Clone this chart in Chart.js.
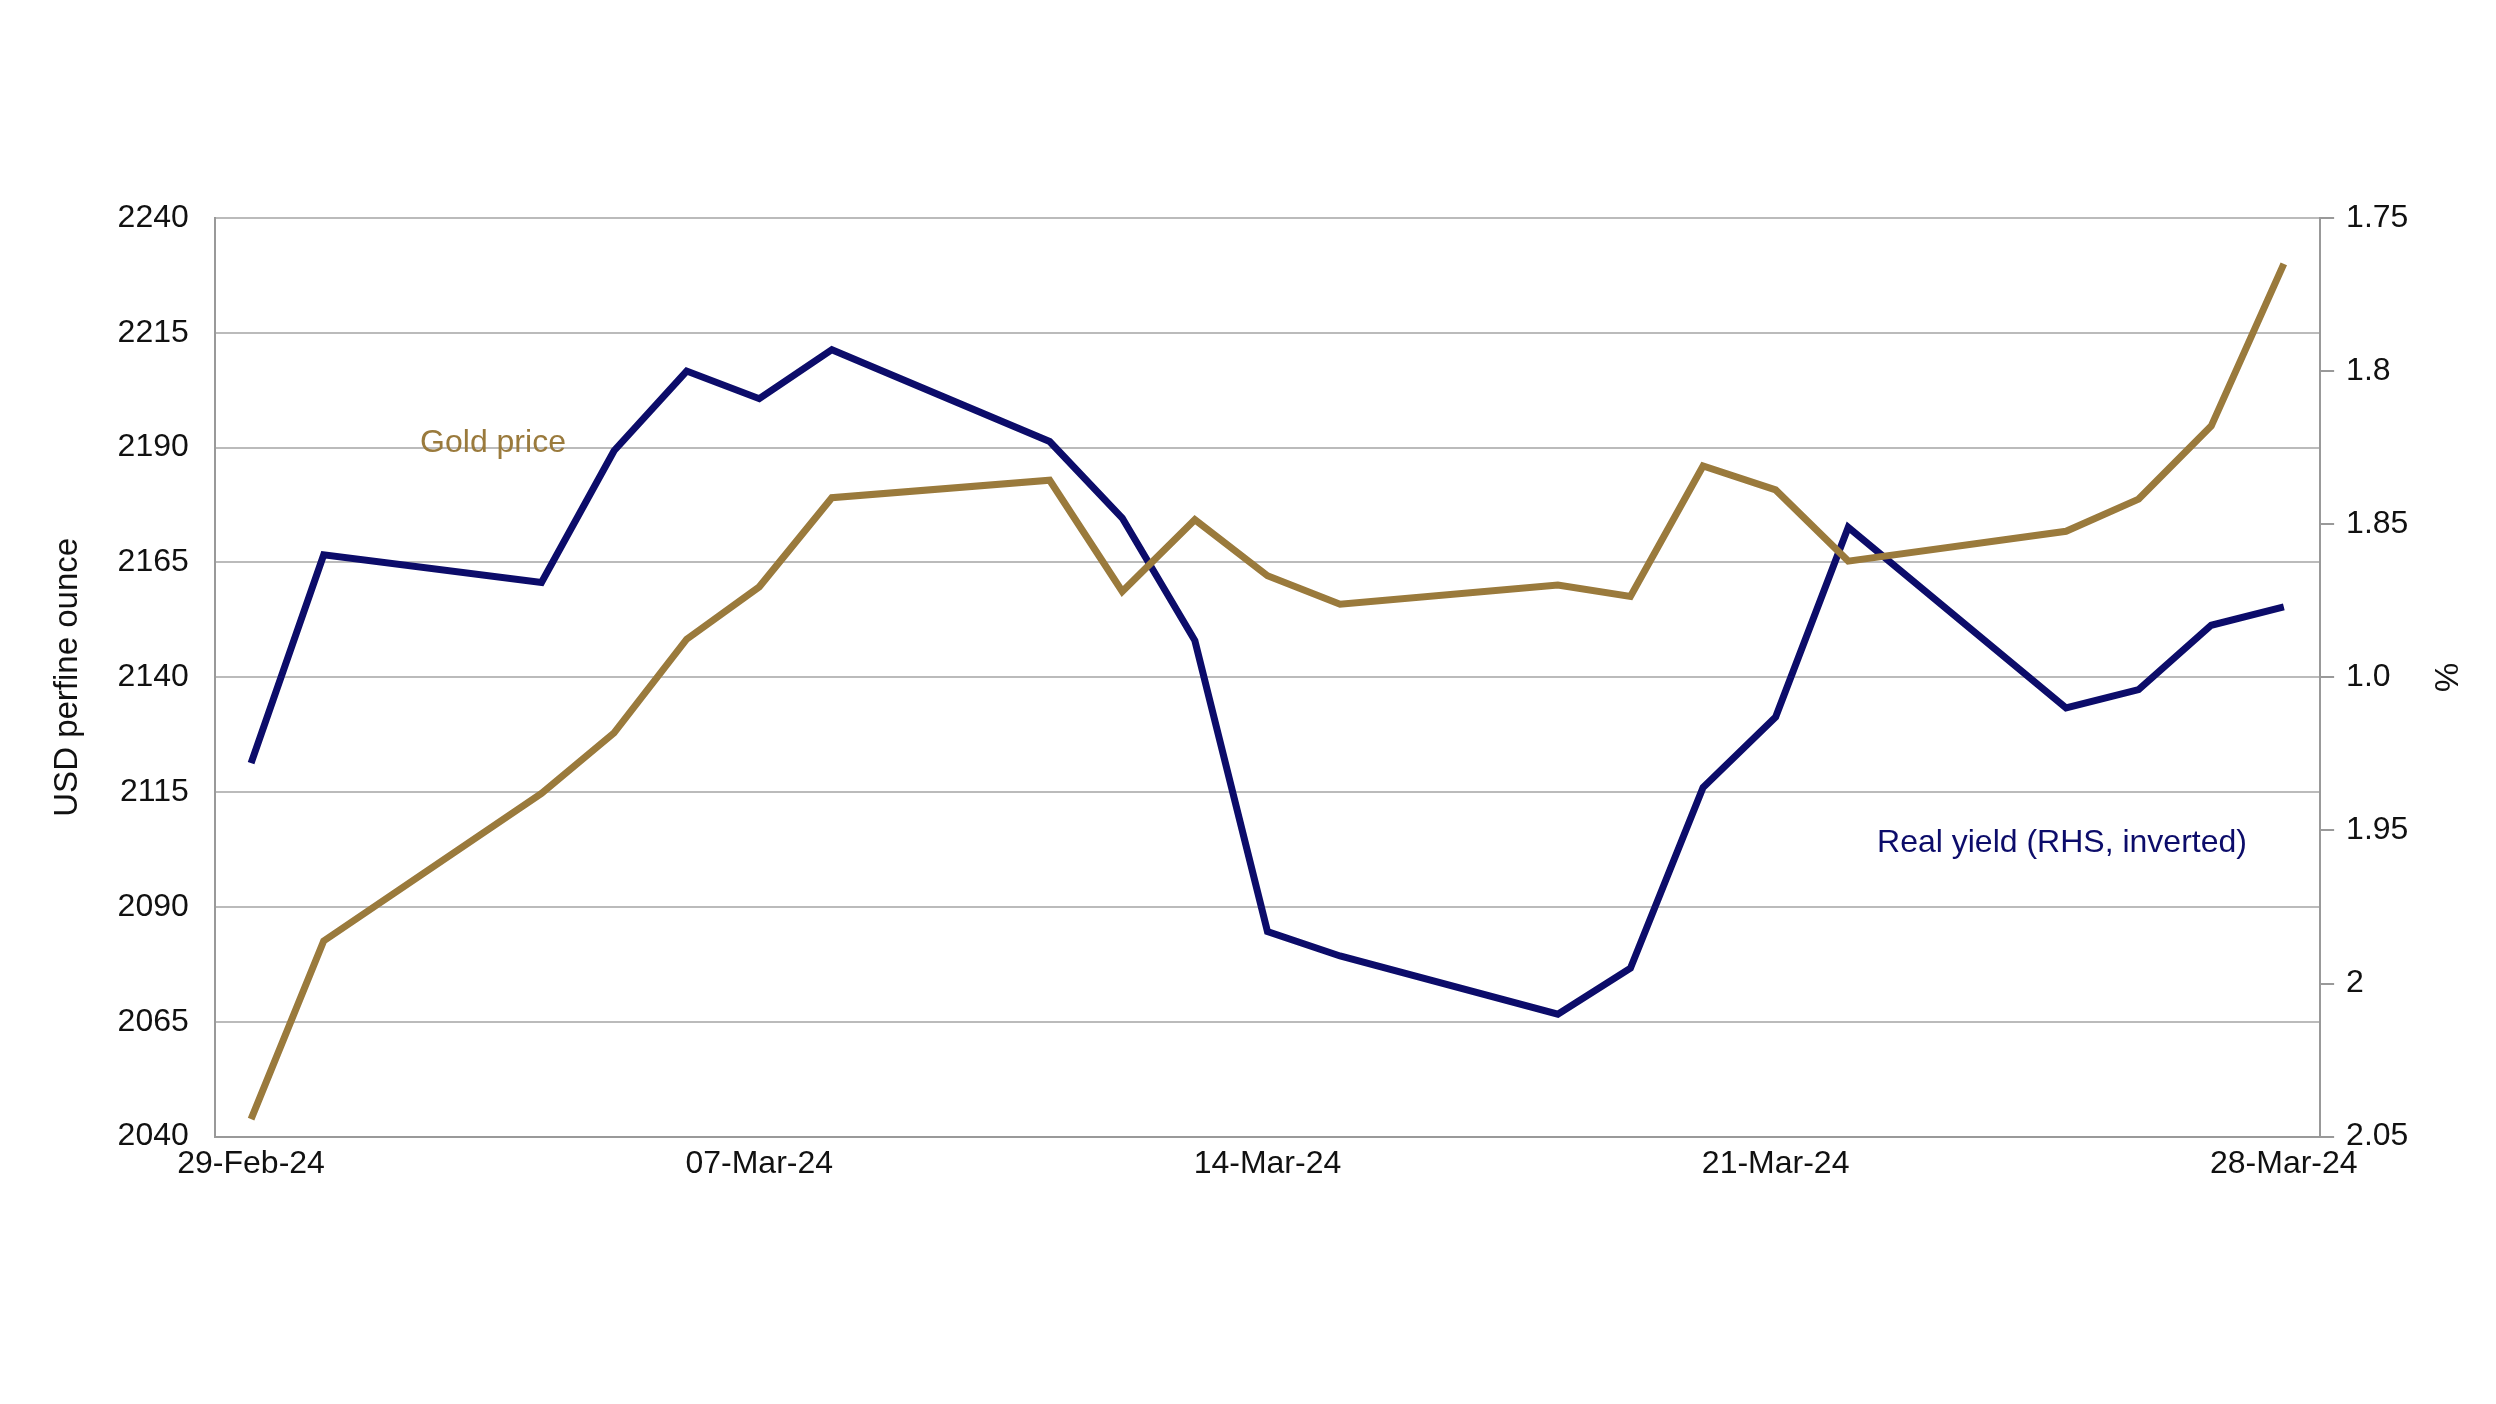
<!DOCTYPE html>
<html>
<head>
<meta charset="utf-8">
<script src="https://cdn.jsdelivr.net/npm/chart.js@4/dist/chart.umd.min.js"></script>
<style>
  html, body { margin: 0; background: #fff; }
  #wrap { width: 2496px; height: 1404px; }
</style>
</head>
<body>
<div id="wrap"><canvas id="chart"></canvas></div>
<script>
// day offsets from 29-Feb-24 (trading days only)
const days = [0, 1, 4, 5, 6, 7, 8, 11, 12, 13, 14, 15, 18, 19, 20, 21, 22, 25, 26, 27, 28];
const goldPrice = [2043.8, 2082.6, 2114.7, 2127.9, 2148.3, 2159.7, 2179.1, 2182.9, 2158.7, 2174.3, 2162.1,
  2155.9, 2160.1, 2157.6, 2186.0, 2180.8, 2165.3, 2171.8, 2178.8, 2194.7, 2230.0];
const realYield = [1.928, 1.860, 1.869, 1.826, 1.800, 1.809, 1.793, 1.823, 1.848, 1.888, 1.983,
  1.991, 2.010, 1.995, 1.936, 1.913, 1.851, 1.910, 1.904, 1.883, 1.877];
const xTicks = { 0: '29-Feb-24', 7: '07-Mar-24', 14: '14-Mar-24', 21: '21-Mar-24', 28: '28-Mar-24' };
const rightTicks = { '1.75': '1.75', '1.8': '1.8', '1.85': '1.85', '1.9': '1.0', '1.95': '1.95', '2': '2', '2.05': '2.05' };

const GOLD = '#9a7a3c';
const NAVY = '#0c0c6a';
const FONT = 'Arial, "Liberation Sans"';

const labels = {
  id: 'labels',
  afterDatasetsDraw(chart) {
    const c = chart.ctx;
    c.save();
    c.font = '32px ' + FONT;
    c.textAlign = 'center';
    c.textBaseline = 'middle';
    c.fillStyle = GOLD;
    c.fillText('Gold price', 493, 443);
    c.fillStyle = NAVY;
    c.fillText('Real yield (RHS, inverted)', 2062, 843);
    c.restore();
  }
};

new Chart(document.getElementById('chart'), {
  type: 'line',
  data: {
    datasets: [
      {
        label: 'Gold price',
        data: days.map((d, i) => ({ x: d, y: goldPrice[i] })),
        borderColor: GOLD, borderWidth: 7, pointRadius: 0, tension: 0, yAxisID: 'y'
      },
      {
        label: 'Real yield (RHS, inverted)',
        data: days.map((d, i) => ({ x: d, y: realYield[i] })),
        borderColor: NAVY, borderWidth: 7, pointRadius: 0, tension: 0, yAxisID: 'y1'
      }
    ]
  },
  options: {
    responsive: true,
    maintainAspectRatio: false,
    animation: false,
    layout: { padding: { left: 44, right: 28, top: 218, bottom: 213 } },
    plugins: { legend: { display: false }, tooltip: { enabled: false } },
    scales: {
      x: {
        type: 'linear', min: -0.5, max: 28.5,
        afterBuildTicks: s => { s.ticks = [0, 7, 14, 21, 28].map(v => ({ value: v })); },
        ticks: { callback: v => xTicks[v] || '', color: '#111', font: { size: 32, family: FONT }, maxRotation: 0, padding: 8 },
        grid: { display: false, drawTicks: false },
        border: { display: true, color: '#999', width: 2 }
      },
      y: {
        position: 'left', min: 2040, max: 2240,
        ticks: { stepSize: 25, callback: v => String(v), color: '#111', font: { size: 32, family: FONT }, padding: 26 },
        grid: { color: '#bbb', lineWidth: 2, drawTicks: false },
        border: { display: true, color: '#999', width: 2 },
        title: { display: true, text: 'USD perfine ounce', color: '#111', font: { size: 33, family: FONT } }
      },
      y1: {
        position: 'right', min: 1.75, max: 2.05, reverse: true,
        afterBuildTicks: s => { s.ticks = [1.75, 1.8, 1.85, 1.9, 1.95, 2, 2.05].map(v => ({ value: v })); },
        ticks: { callback: v => rightTicks[String(Math.round(v * 100) / 100)], color: '#111', font: { size: 32, family: FONT }, padding: 12 },
        grid: { display: true, drawOnChartArea: false, color: '#999', lineWidth: 2, tickLength: 14 },
        border: { display: true, color: '#999', width: 2 },
        title: { display: true, text: '%', color: '#111', font: { size: 33, family: FONT } }
      }
    }
  },
  plugins: [labels]
});
</script>
</body>
</html>
